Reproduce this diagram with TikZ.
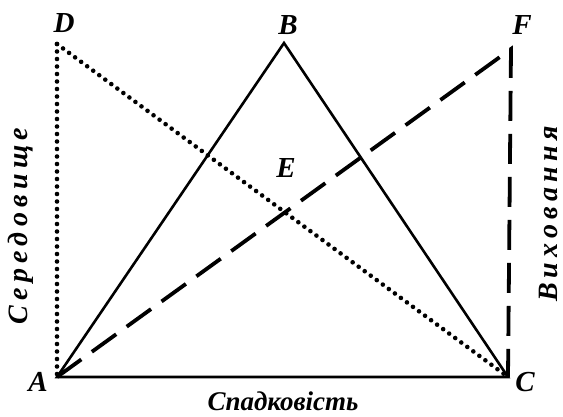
\documentclass[tikz,border=0pt]{standalone}
\usepackage{fontspec}
\setmainfont{Liberation Serif}
\newfontfamily\sidefont[LetterSpace=19]{Liberation Serif}

\begin{document}
\begin{tikzpicture}[x=1pt, y=-1pt,
        ltr/.style={font=\fontsize{29}{31}\selectfont\bfseries\itshape, inner sep=0pt},
        side/.style={font=\sidefont\fontsize{28}{30}\selectfont\bfseries\itshape, inner sep=0pt},
        solidline/.style={line width=2.6pt},
        dotline/.style={line width=4.6pt, line cap=round, dash pattern=on 0pt off 7.5pt},
        dashline/.style={line width=3.8pt, line join=miter, dash pattern=on 30pt off 13pt}]

        \useasboundingbox (0,0) rectangle (563,416);

        % corners
        \coordinate (A) at (57,377);
        \coordinate (B) at (284,43);
        \coordinate (C) at (508,377);
        \coordinate (D) at (57,44);
        \coordinate (F) at (511,49);

        % triangle
        \draw[solidline] (A) -- (B) -- (C) -- cycle;

        % dotted
        \draw[dotline] (D) -- (A);
        \draw[dotline] (D) -- (C);

        % dashed
        \draw[dashline] (A) -- (F) -- (C);

        % letters
        \node[ltr] (lblD) at (64,23) {D};
        \node[ltr] (lblB) at (288,25) {B};
        \node[ltr] (lblF) at (522,25) {F};
        \node[ltr] (lblA) at (38,382) {A};
        \node[ltr] (lblC) at (525,382) {C};
        \node[ltr] (lblE) at (286,168) {E};

        % sides
        \node[ltr, font=\fontsize{27}{29}\selectfont\bfseries\itshape] (lblAC) at (283,401) {Спадковість};
        \node[side, rotate=90] (lblAD) at (21,226) {Середовище};
        \node[side, rotate=90] (lblFC) at (548,214) {Виховання};

\end{tikzpicture}
\end{document}
